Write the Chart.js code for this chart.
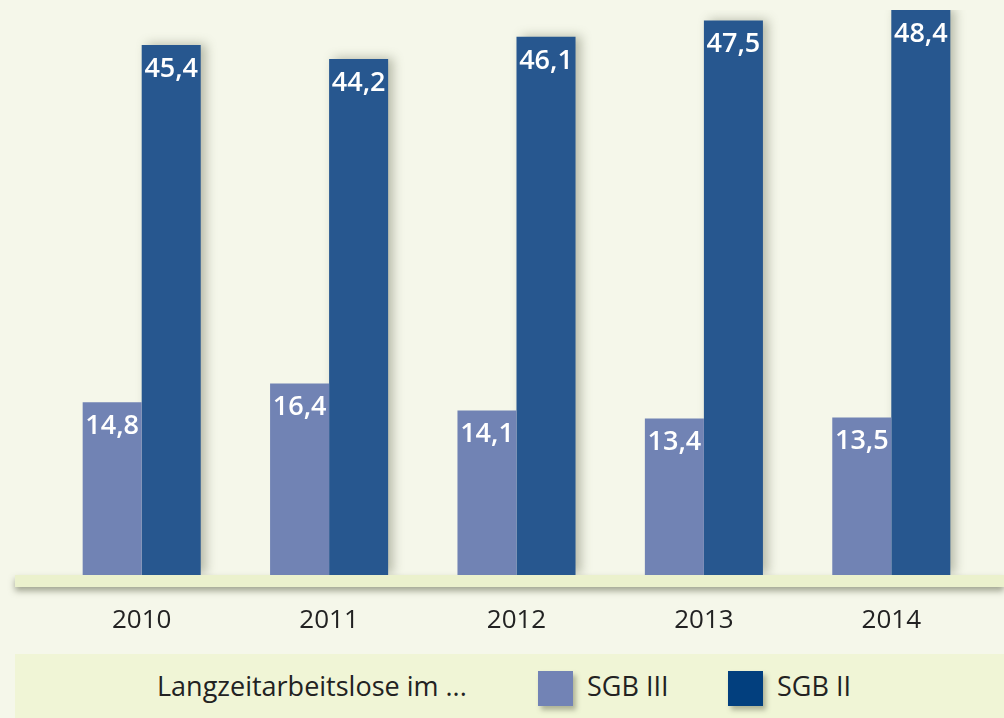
<!DOCTYPE html>
<html>
<head>
<meta charset="utf-8">
<script src="https://cdn.jsdelivr.net/npm/chart.js@4/dist/chart.umd.min.js"></script>
<style>
    html, body { margin: 0; padding: 0; background: #f5f7ea; }
    #wrap { position: relative; width: 1004px; height: 718px; overflow: hidden; font-family: "Open Sans", sans-serif; }
    #chart-box { position: absolute; left: 0; top: 0; width: 1004px; height: 654px; }
    #legend { position: absolute; left: 15px; top: 654px; width: 989px; height: 64px; background: #f0f5d6; color: #222; font-size: 27px; }
    #legend .item { position: absolute; top: 0; height: 64px; line-height: 64px; white-space: nowrap; }
    #legend .swatch { position: absolute; top: 17px; width: 35px; height: 35px; box-shadow: 3px 4px 5px rgba(90, 95, 70, 0.45); }
</style>
</head>
<body>
<div id="wrap">
    <div id="chart-box"><canvas id="chart"></canvas></div>
    <div id="legend">
        <div class="item" id="legend-title" style="left:142px"></div>
        <div class="swatch" id="sw-0" style="left:523px"></div>
        <div class="item" id="lab-0" style="left:572px"></div>
        <div class="swatch" id="sw-1" style="left:713px"></div>
        <div class="item" id="lab-1" style="left:762px"></div>
    </div>
</div>
<script>
const years = ["2010", "2011", "2012", "2013", "2014"];
const sgb3 = [14.8, 16.4, 14.1, 13.4, 13.5];
const sgb2 = [45.4, 44.2, 46.1, 47.5, 48.4];
const seriesNames = ["SGB III", "SGB II"];
const legendTitle = "Langzeitarbeitslose im ...";

const barColors = ["#7183b4", "#27578f"];
const swatchColors = ["#7283b5", "#023f7e"];

document.querySelector("#legend-title").innerText = legendTitle;
seriesNames.forEach((name, i) => {
    document.querySelector("#lab-" + i).innerText = name;
    document.querySelector("#sw-" + i).style.background = swatchColors[i];
});

const formatValue = (v) => v.toFixed(1).replace(".", ",");

// light band under the bars, with a soft shadow
const baseBand = {
    id: "baseBand",
    beforeDatasetsDraw(chart) {
        const ctx = chart.ctx;
        const y = chart.chartArea.bottom;
        ctx.save();
        ctx.shadowColor = "rgba(80, 85, 60, 0.5)";
        ctx.shadowBlur = 6;
        ctx.shadowOffsetY = 4;
        ctx.fillStyle = "#ebf1cd";
        ctx.fillRect(15, y, chart.width - 15, 12);
        ctx.restore();
    }
};

// shadow only behind the dark bars (the light ones are drawn on top of them)
const barShadow = {
    id: "barShadow",
    beforeDatasetDraw(chart, args) {
        const ctx = chart.ctx;
        ctx.save();
        if (args.index === 1) {
            ctx.shadowColor = "rgba(90, 95, 70, 0.4)";
            ctx.shadowBlur = 10;
            ctx.shadowOffsetX = 5;
            ctx.shadowOffsetY = -1;
        }
    },
    afterDatasetDraw(chart) {
        chart.ctx.restore();
    }
};

const valueLabels = {
    id: "valueLabels",
    afterDatasetsDraw(chart) {
        const ctx = chart.ctx;
        ctx.save();
        ctx.fillStyle = "#ffffff";
        ctx.font = "600 27px 'Open Sans'";
        ctx.textAlign = "center";
        ctx.textBaseline = "middle";
        chart.data.datasets.forEach((ds, di) => {
            chart.getDatasetMeta(di).data.forEach((bar, i) => {
                ctx.fillText(formatValue(ds.data[i]), bar.x, bar.y + 24);
            });
        });
        ctx.restore();
    }
};

new Chart(document.querySelector("#chart"), {
    type: "bar",
    data: {
        labels: years,
        datasets: [
            { label: seriesNames[0], data: sgb3, backgroundColor: barColors[0] },
            { label: seriesNames[1], data: sgb2, backgroundColor: barColors[1] },
        ]
    },
    options: {
        responsive: true,
        maintainAspectRatio: false,
        animation: false,
        events: [],
        layout: { padding: { left: 48, right: 19, top: 10, bottom: 0 } },
        datasets: { bar: { barPercentage: 1, categoryPercentage: 0.63 } },
        scales: {
            x: {
                grid: { display: false, drawTicks: false },
                border: { display: false },
                ticks: { color: "#222", padding: 30, maxRotation: 0, font: { family: "Open Sans", size: 26 } },
                afterFit(scale) { scale.height = 79; }
            },
            y: {
                display: false,
                min: 0,
                max: 48.4
            }
        },
        plugins: {
            legend: { display: false },
            tooltip: { enabled: false }
        }
    },
    plugins: [baseBand, barShadow, valueLabels]
});
</script>
</body>
</html>
